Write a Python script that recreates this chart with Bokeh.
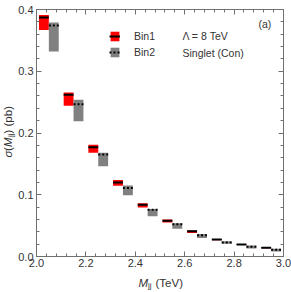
import math
from bokeh.plotting import figure
from bokeh.models import (ColumnDataSource, LinearAxis, SingleIntervalTicker, Label,
                          Legend, LegendItem, CustomJSTickFormatter, Range1d, NumeralTickFormatter)
from bokeh.embed import file_html
from bokeh.resources import INLINE

# ---- data ----
bin_start = [2.0, 2.1, 2.2, 2.3, 2.4, 2.5, 2.6, 2.7, 2.8, 2.9]
bin1_central = [0.387, 0.262, 0.177, 0.120, 0.0837, 0.058, 0.041, 0.0275, 0.0194, 0.014]
bin1_low = [0.367, 0.244, 0.168, 0.1145, 0.0794, 0.055, 0.038, 0.0265, 0.0187, 0.0135]
bin1_high = [0.391, 0.2656, 0.181, 0.124, 0.0864, 0.060, 0.042, 0.0285, 0.0201, 0.0145]
bin2_central = [0.374, 0.2466, 0.165, 0.111, 0.0756, 0.0523, 0.0345, 0.0227, 0.0157, 0.0108]
bin2_low = [0.332, 0.219, 0.146, 0.099, 0.065, 0.045, 0.030, 0.0205, 0.013, 0.008]
bin2_high = [0.379, 0.254, 0.168, 0.115, 0.077, 0.054, 0.0366, 0.0248, 0.0178, 0.0124]
x_unit = "TeV"
x_lim = (2.0, 3.0)
y_lim = (0.0, 0.4)

# horizontal placement inside each bin
lo1 = [b + 0.01 for b in bin_start]
hi1 = [b + 0.05 for b in bin_start]
lo2 = [b + 0.05 for b in bin_start]
hi2 = [b + 0.09 for b in bin_start]

s1 = ColumnDataSource(dict(left=lo1, right=hi1, bottom=bin1_low, top=bin1_high, c=bin1_central))
s2 = ColumnDataSource(dict(left=lo2, right=hi2, bottom=bin2_low, top=bin2_high, c=bin2_central))

FRAME = "#707070"
TXT = "#333333"
FONT = "Liberation Sans"

# canvas layout (pixels): plot box 247x247, margins L36 R8 T9 B36
W, H = 291, 292
ML, MR, MT, MB = 36, 8, 9, 36
pw, ph = W - ML - MR, H - MT - MB
dx_pp = (x_lim[1] - x_lim[0]) / pw
dy_pp = (y_lim[1] - y_lim[0]) / ph
xr = Range1d(x_lim[0] - ML * dx_pp, x_lim[1] + MR * dx_pp)
yr = Range1d(y_lim[0] - MB * dy_pp, y_lim[1] + MT * dy_pp)

p = figure(width=W, height=H, output_backend="svg", toolbar_location=None,
           x_range=xr, y_range=yr, x_axis_location=None, y_axis_location=None,
           min_border_left=0, min_border_right=0, min_border_top=0, min_border_bottom=0,
           background_fill_color="white", border_fill_color="white")
p.grid.visible = False
p.outline_line_color = None

q1 = p.quad(left="left", right="right", bottom="bottom", top="top", source=s1,
            fill_color="#ff0000", line_color=None)
l1 = p.segment(x0="left", x1="right", y0="c", y1="c", source=s1,
               line_color="black", line_width=2)
q2 = p.quad(left="left", right="right", bottom="bottom", top="top", source=s2,
            fill_color="#808080", line_color=None)
l2 = p.segment(x0="left", x1="right", y0="c", y1="c", source=s2,
               line_color="black", line_width=2, line_dash="2 2")

xt = SingleIntervalTicker(interval=0.2, num_minor_ticks=5)
yt = SingleIntervalTicker(interval=0.1, num_minor_ticks=5)

def make_axis(ticker, loc, bounds, show):
    ax = LinearAxis(ticker=ticker, fixed_location=loc, bounds=bounds)
    ax.axis_line_color = FRAME
    ax.major_tick_line_color = FRAME
    ax.minor_tick_line_color = FRAME
    ax.major_tick_in = 5
    ax.major_tick_out = 0
    ax.minor_tick_in = 3
    ax.minor_tick_out = 0
    ax.major_label_text_font = FONT
    ax.major_label_text_font_size = "11px"
    ax.major_label_text_color = TXT
    if show:
        ax.formatter = NumeralTickFormatter(format="0.0")
    else:
        ax.formatter = CustomJSTickFormatter(code="return ''")
        ax.major_label_standoff = 0
        ax.major_label_text_font_size = "0px"
    return ax

bottom_ax = make_axis(xt, y_lim[0], x_lim, True)
bottom_ax.major_label_standoff = 2
left_ax = make_axis(yt, x_lim[0], y_lim, True)
left_ax.major_label_standoff = 3
top_ax = make_axis(xt, y_lim[1], x_lim, False)
right_ax = make_axis(yt, x_lim[1], y_lim, False)
p.add_layout(bottom_ax, "below")
p.add_layout(left_ax, "left")
p.add_layout(top_ax, "above")
p.add_layout(right_ax, "right")

# legend
legend = Legend(items=[LegendItem(label="Bin1", renderers=[q1, l1]),
                       LegendItem(label="Bin2", renderers=[q2, l2])],
                location=(109, 234), glyph_width=11, glyph_height=12,
                label_standoff=14, spacing=4, padding=0, margin=0,
                border_line_color=None, background_fill_alpha=0,
                label_text_font=FONT, label_text_font_size="10.5px",
                label_text_color=TXT, label_height=12)
p.add_layout(legend)

def lab(text, x, y, dx, dy, size="10.5px", style="normal", angle=0):
    p.add_layout(Label(x=x, y=y, x_offset=dx, y_offset=dy, text=text, angle=angle,
                       text_font=FONT, text_font_size=size, text_font_style=style,
                       text_color=TXT, text_align="left", text_baseline="middle"))

lab("\u039b = 8 TeV", x_lim[0], y_lim[1], 146, -26)
lab("Singlet (Con)", x_lim[0], y_lim[1], 146, -43)
lab("(a)", x_lim[0], y_lim[1], 222, -14)

# x axis label: M_jj (TeV)
lab("M", x_lim[0], y_lim[0], 102, -26, size="11.5px", style="italic")
lab("jj", x_lim[0], y_lim[0], 111.5, -29, size="8px")
lab("(" + x_unit + ")", x_lim[0], y_lim[0], 119, -26, size="11.5px")

# y axis label: sigma(M_jj) (pb)
a = math.pi / 2
lab("\u03c3", x_lim[0], y_lim[0], -29, 99, size="11.5px", style="italic", angle=a)
lab("(", x_lim[0], y_lim[0], -29, 105.5, size="11.5px", angle=a)
lab("M", x_lim[0], y_lim[0], -29, 109.5, size="11.5px", style="italic", angle=a)
lab("jj", x_lim[0], y_lim[0], -26, 119.5, size="8px", angle=a)
lab(") (pb)", x_lim[0], y_lim[0], -29, 123, size="11.5px", angle=a)

open("out.html", "w").write(file_html(p, INLINE))
